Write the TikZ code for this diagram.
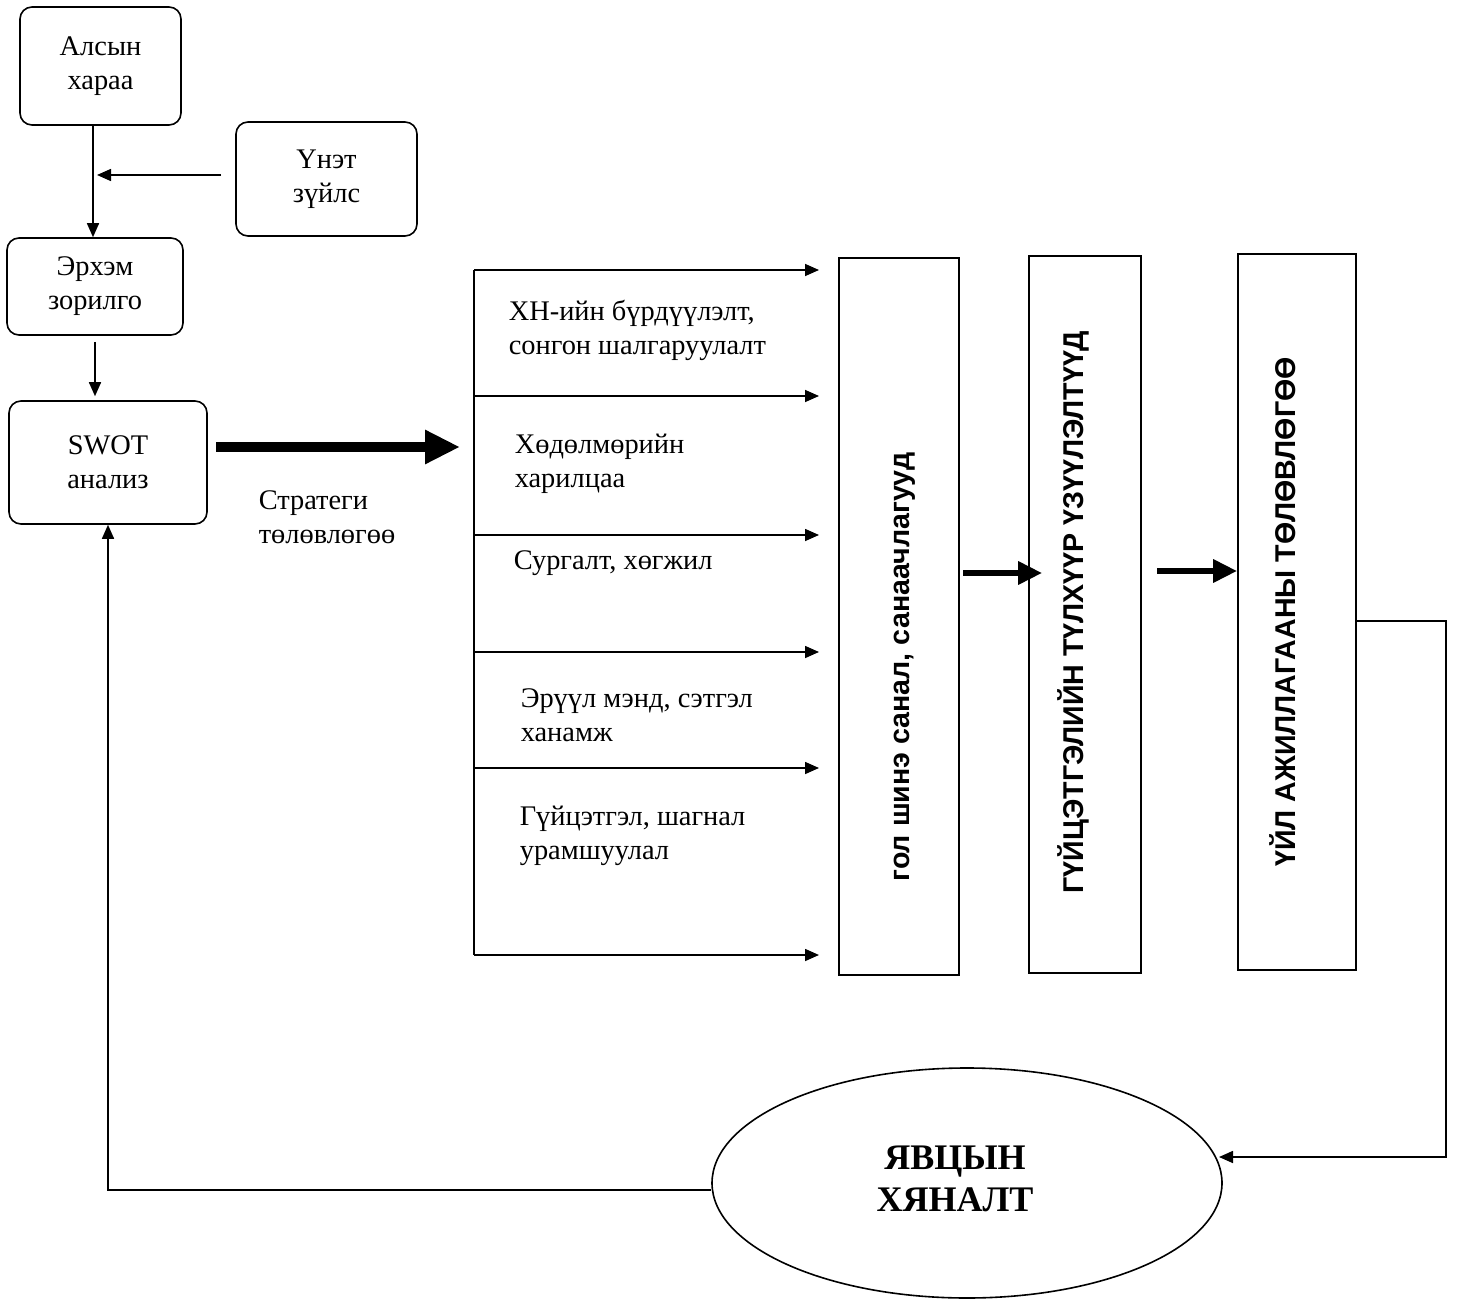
\documentclass[tikz,border=0pt]{standalone}
\usepackage{fontspec}
\setmainfont{Liberation Serif}
\setsansfont{Liberation Sans}
\usetikzlibrary{arrows.meta,shapes.geometric}
\tikzset{
  roundbox/.style={draw,rounded corners=6pt,line width=.8pt,align=center,inner sep=0pt},
  boxsize/.style 2 args={minimum width=#1*.5pt,minimum height=#2*.5pt},
  tallbox/.style={draw,line width=.8pt,inner sep=0pt,minimum width=#1},
  vtext/.style={rotate=90,font=\sffamily\bfseries\fontsize{14.3}{16}\selectfont},
  thinarrow/.style={line width=.8pt,-{Triangle[length=7pt,width=6pt]}},
  fatarrow/.style={line width=5pt,-{Triangle[length=17.5pt,width=16pt]}},
  midarrow/.style={line width=3pt,-{Triangle[length=12pt,width=11pt]}},
  itemtext/.style={anchor=west,align=left,inner sep=0pt}
}
\begin{document}
\begin{tikzpicture}[x=.5pt,y=-.5pt,line width=.8pt,font=\fontsize{14.2}{17}\selectfont]
\path[use as bounding box] (0,0) rectangle (1462,1300);
\node[roundbox,boxsize={161}{118}] (vision) at (100.5,66) {Алсын\\хараа};
\node[roundbox,boxsize={181}{114}] (values) at (326.5,179) {Үнэт\\зүйлс};
\node[roundbox,boxsize={176}{97}] (mission) at (95,286.5) {Эрхэм\\зорилго};
\node[roundbox,boxsize={198}{123}] (swot) at (108,462.5) {SWOT\\анализ};

\coordinate (vjoin) at (93,175);
\draw[thinarrow] (vision.south -| vjoin) -- (mission.north -| vjoin);
\draw[thinarrow] ([xshift=-7pt]values.west |- vjoin) -- ([xshift=2pt]vjoin);
\draw[thinarrow] ([yshift=-3pt]mission.south) -- ([yshift=2pt]mission.south |- swot.north);

\coordinate (fatstart) at (216,447);
\coordinate (fatend) at (460,447);
\draw[fatarrow] (fatstart) -- (fatend);
\node[itemtext] (strat) at (258,517) {Стратеги\\төлөвлөгөө};

\foreach \yy [count=\i] in {270,396,535,652,768,955}{
  \coordinate (b\i) at (474,\yy);
  \coordinate (e\i) at (819,\yy);
  \draw[thinarrow] (b\i) -- (e\i);
}
\draw (b1) -- (b6);
\node[itemtext] (hr) at (508,330) {ХН-ийн бүрдүүлэлт,\\сонгон шалгаруулалт};
\node[itemtext] (labour) at (514,464) {Хөдөлмөрийн\\харилцаа};
\node[itemtext] (train) at (513,563) {Сургалт, хөгжил};
\node[itemtext] (health) at (520,715) {Эрүүл мэнд, сэтгэл\\ханамж};
\node[itemtext] (reward) at (519,836) {Гүйцэтгэл, шагнал\\урамшуулал};

\node[tallbox=60pt,minimum height=358.5pt] (ideas) at (899,616.5) {};
\node[tallbox=56pt,minimum height=358.5pt] (kpi) at (1085,614.5) {};
\node[tallbox=59pt,minimum height=358pt] (plan) at (1297,612) {};
\node[vtext] (ideastxt) at (905,667) {гол шинэ санал, санаачлагууд};
\node[vtext] (kpitxt) at (1073,612) {ГҮЙЦЭТГЭЛИЙН ТҮЛХҮҮР ҮЗҮҮЛЭЛТҮҮД};
\node[vtext] (plantxt) at (1283,612) {ҮЙЛ АЖИЛЛАГААНЫ ТӨЛӨВЛӨГӨӨ};

\coordinate (m1) at (963,573);
\coordinate (m2) at (1157,571);
\draw[midarrow] (m1) -- ([xshift=7pt]kpi.west |- m1);
\draw[midarrow] (m2) -- (plan.west |- m2);

\node[draw,ellipse,line width=.8pt,minimum width=255pt,minimum height=115pt,inner sep=0pt] (track) at (967,1183) {};
\node[font=\bfseries\fontsize{18}{21}\selectfont,align=center] (tracktxt) at (955,1179) {ЯВЦЫН\\ХЯНАЛТ};

\coordinate (fbtop) at (1446,621);
\coordinate (fbbot) at (1446,1157);
\coordinate (fbend) at (1219,1157);
\draw[thinarrow] (plan.east |- fbtop) -- (fbtop) -- (fbbot) -- (fbend);
\coordinate (backcorner) at (108,1190);
\draw[thinarrow] (track.west |- backcorner) -- (backcorner) -- (swot.south);
\end{tikzpicture}
\end{document}
